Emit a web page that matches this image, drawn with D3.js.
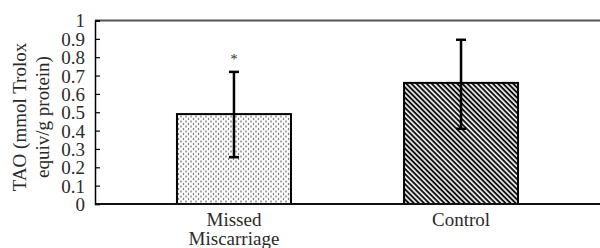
<!DOCTYPE html>
<html>
<head>
<meta charset="utf-8">
<script src="https://cdn.jsdelivr.net/npm/d3@7"></script>
<style>
  body { margin: 0; background: #fff; }
  text { font-family: "Liberation Serif", "Times New Roman", serif; fill: #2a2a2a; }
</style>
</head>
<body>
<div id="chart"></div>
<script>
// data
const groups = ['Missed Miscarriage', 'Control'];
const means = [0.49, 0.66];
const errTop = [0.72, 0.895];
const errBottom = [0.255, 0.41];
const markers = ['*', ''];
const yTicks = [0, 0.1, 0.2, 0.3, 0.4, 0.5, 0.6, 0.7, 0.8, 0.9, 1];

const W = 600, H = 248;
const margin = {top: 20.5, right: 0, bottom: 44, left: 95};
const width = W - margin.left - margin.right;
const height = H - margin.top - margin.bottom;

const svg = d3.select('#chart').append('svg')
  .attr('width', W)
  .attr('height', H);

// fill patterns
const defs = svg.append('defs');
const dots = defs.append('pattern')
  .attr('id', 'dots')
  .attr('patternUnits', 'userSpaceOnUse')
  .attr('width', 5).attr('height', 5);
dots.append('rect').attr('width', 5).attr('height', 5).attr('fill', '#fff');
dots.append('circle').attr('cx', 1).attr('cy', 1).attr('r', 0.75).attr('fill', '#222');
dots.append('circle').attr('cx', 3.5).attr('cy', 3.5).attr('r', 0.75).attr('fill', '#222');

const stripes = defs.append('pattern')
  .attr('id', 'stripes')
  .attr('patternUnits', 'userSpaceOnUse')
  .attr('width', 8).attr('height', 3.6)
  .attr('patternTransform', 'rotate(45)');
stripes.append('rect').attr('width', 8).attr('height', 3.6).attr('fill', '#eee');
stripes.append('rect').attr('width', 8).attr('height', 1.9).attr('fill', '#111');

const fills = ['url(#dots)', 'url(#stripes)'];

const g = svg.append('g')
  .attr('transform', 'translate(' + margin.left + ',' + margin.top + ')');

const x = d3.scaleBand()
  .domain(groups)
  .range([0, width])
  .paddingInner(0.498)
  .paddingOuter(0.361);

const y = d3.scaleLinear()
  .domain([0, 1])
  .range([height, 0]);

// top frame line
g.append('line')
  .attr('x1', 0).attr('x2', width)
  .attr('y1', 0).attr('y2', 0)
  .attr('stroke', '#555').attr('stroke-width', 2);

// bars
g.selectAll('rect.bar')
  .data(groups)
  .enter().append('rect')
    .attr('class', 'bar')
    .attr('x', d => x(d))
    .attr('y', (d, i) => y(means[i]))
    .attr('width', x.bandwidth())
    .attr('height', (d, i) => height - y(means[i]))
    .attr('fill', (d, i) => fills[i])
    .attr('stroke', '#000')
    .attr('stroke-width', 2);

// error bars
const cx = d => x(d) + x.bandwidth() / 2;
g.selectAll('line.err')
  .data(groups)
  .enter().append('line')
    .attr('class', 'err')
    .attr('x1', cx).attr('x2', cx)
    .attr('y1', (d, i) => y(errTop[i]))
    .attr('y2', (d, i) => y(errBottom[i]))
    .attr('stroke', '#000').attr('stroke-width', 2.5);

groups.forEach((d, i) => {
  [errTop[i], errBottom[i]].forEach(v => {
    g.append('line')
      .attr('x1', cx(d) - 5).attr('x2', cx(d) + 5)
      .attr('y1', y(v)).attr('y2', y(v))
      .attr('stroke', '#000').attr('stroke-width', 2.5);
  });
});

g.selectAll('text.mark')
  .data(groups)
  .enter().append('text')
    .attr('class', 'mark')
    .attr('x', cx)
    .attr('y', (d, i) => y(errTop[i]) - 8)
    .attr('text-anchor', 'middle')
    .style('font-size', '14px')
    .text((d, i) => markers[i]);

// y axis with inside ticks
const yAxis = d3.axisLeft(y)
  .tickValues(yTicks)
  .tickSize(-5)
  .tickPadding(10)
  .tickFormat(d => d === 0 || d === 1 ? d : d3.format('.1f')(d));

const ya = g.append('g').call(yAxis);
ya.select('.domain').attr('stroke', '#000').attr('stroke-width', 1.5);
ya.selectAll('.tick line').attr('stroke', '#000').attr('stroke-width', 1.2);
ya.selectAll('.tick text')
  .style('font-size', '19px')
  .attr('fill', '#2a2a2a')
  .attr('dy', '0.34em');

// x axis baseline
g.append('line')
  .attr('x1', 0).attr('x2', width)
  .attr('y1', height).attr('y2', height)
  .attr('stroke', '#111').attr('stroke-width', 2);

// category labels
g.selectAll('text.cat')
  .data(groups)
  .enter().append('text')
    .attr('class', 'cat')
    .attr('x', cx)
    .attr('y', height + 22)
    .attr('text-anchor', 'middle')
    .style('font-size', '19px')
    .each(function(d) {
      const lines = d === 'Missed Miscarriage' ? ['Missed', 'Miscarriage'] : [d];
      d3.select(this).selectAll('tspan')
        .data(lines)
        .enter().append('tspan')
          .attr('x', cx(d))
          .attr('dy', (l, j) => j === 0 ? 0 : 19)
          .text(l => l);
    });

// y title, two lines
const title = svg.append('text')
  .attr('transform', 'translate(26,117) rotate(-90)')
  .attr('text-anchor', 'middle')
  .style('font-size', '19px');
title.append('tspan').attr('x', 0).attr('dy', 0).text('TAO (mmol Trolox');
title.append('tspan').attr('x', 0).attr('dy', 23).text('equiv/g protein)');
</script>
</body>
</html>
